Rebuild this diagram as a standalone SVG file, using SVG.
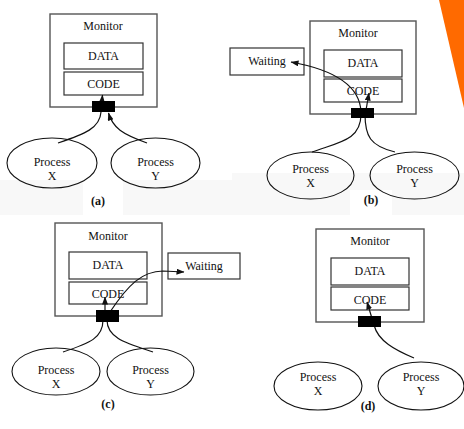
<svg xmlns="http://www.w3.org/2000/svg" width="464" height="429" viewBox="0 0 464 429">
<style>
text{font-family:"Liberation Serif","Times New Roman",serif;font-size:12px;fill:#111;text-anchor:middle}
.lbl{font-weight:bold}
.mon{fill:#fff;stroke:#555;stroke-width:1.4}
.box{fill:#fff;stroke:#333;stroke-width:1.2}
.ell{fill:none;stroke:#111;stroke-width:1.1}
.gate{fill:#000}
.c{fill:none;stroke:#111;stroke-width:1.2}
.ar{fill:none;stroke:#111;stroke-width:1.2;marker-end:url(#ah)}
</style>
<defs>
<marker id="ah" markerWidth="8" markerHeight="6" refX="7.5" refY="3" orient="auto" markerUnits="userSpaceOnUse">
<path d="M0,0 L8,3 L0,6 Z" fill="#111"/>
</marker>
</defs>
<rect width="464" height="429" fill="#fff"/>
<rect x="0" y="180" width="232" height="35" fill="#f8f8f8"/>
<rect x="83" y="180" width="40" height="35" fill="#fff"/>
<rect x="232" y="173" width="232" height="42" fill="#f8f8f8"/>
<rect x="350" y="190" width="42" height="25" fill="#fff"/>
<polygon points="439,0 464,0 464,108" fill="#ff6a00"/>

<!-- (a) -->
<g id="a-monitor">
<rect class="mon" x="50" y="14" width="107" height="93"/>
<text x="103" y="30">Monitor</text>
</g>
<g id="a-data"><rect class="box" x="64" y="43" width="79" height="26"/><text x="103.5" y="60">DATA</text></g>
<g id="a-code"><rect class="box" x="64" y="72" width="79" height="23"/><text x="103.5" y="88">CODE</text></g>
<g id="a-px"><ellipse class="ell" cx="52" cy="163" rx="45" ry="25"/><text x="52" y="166">Process</text><text x="52" y="180">X</text></g>
<g id="a-py"><ellipse class="ell" cx="155.5" cy="163" rx="44.5" ry="25"/><text x="155.5" y="166">Process</text><text x="155.5" y="180">Y</text></g>
<g id="a-connectors">
<path class="ar" d="M58,143 C85,134 100,128 101,112 L102.5,95"/>
<path class="ar" d="M147,143 C122,134 113,128 108.5,113"/>
</g>
<g id="a-gate"><rect class="gate" x="92" y="101" width="23" height="11"/></g>
<text class="lbl" x="98" y="205">(a)</text>

<!-- (b) -->
<g id="b-monitor">
<rect class="mon" x="310" y="21" width="106" height="93"/>
<text x="358" y="37">Monitor</text>
</g>
<g id="b-data"><rect class="box" x="324" y="50" width="78" height="27"/><text x="363" y="67">DATA</text></g>
<g id="b-code"><rect class="box" x="324" y="79" width="78" height="23"/><text x="363" y="95">CODE</text></g>
<g id="b-waiting"><rect class="box" x="230" y="48" width="74" height="27"/><text x="267" y="65">Waiting</text></g>
<g id="b-px"><ellipse class="ell" cx="310.5" cy="175.5" rx="43.5" ry="23.5"/><text x="310.5" y="173">Process</text><text x="310.5" y="187">X</text></g>
<g id="b-py"><ellipse class="ell" cx="414.5" cy="175.5" rx="44.5" ry="23.5"/><text x="414.5" y="173">Process</text><text x="414.5" y="187">Y</text></g>
<g id="b-connectors">
<path class="c" d="M312,152 C340,142 361,140 361,114"/>
<path class="c" d="M395,152 C370,146 365,136 365,114"/>
<path class="ar" d="M361,112 C360,86 335,70 291,62"/>
<path class="ar" d="M366,110 L369,93"/>
</g>
<g id="b-gate"><rect class="gate" x="351" y="108" width="23" height="10"/></g>
<text class="lbl" x="371" y="204">(b)</text>

<!-- (c) -->
<g id="c-monitor">
<rect class="mon" x="55" y="223" width="107" height="93"/>
<text x="108" y="240">Monitor</text>
</g>
<g id="c-data"><rect class="box" x="69" y="252" width="78" height="27"/><text x="108" y="269">DATA</text></g>
<g id="c-code"><rect class="box" x="69" y="282" width="78" height="22"/><text x="108" y="298">CODE</text></g>
<g id="c-waiting"><rect class="box" x="168" y="253" width="72" height="26"/><text x="204" y="270">Waiting</text></g>
<g id="c-px"><ellipse class="ell" cx="56" cy="371.5" rx="44" ry="23.5"/><text x="56" y="374">Process</text><text x="56" y="388">X</text></g>
<g id="c-py"><ellipse class="ell" cx="150.5" cy="371.5" rx="43.5" ry="23.5"/><text x="150.5" y="374">Process</text><text x="150.5" y="388">Y</text></g>
<g id="c-connectors">
<path class="c" d="M63,352 C90,343 103,338 103,320"/>
<path class="c" d="M153,352 C126,343 107,338 107,320"/>
<path class="ar" d="M105,312 L105,297"/>
<path class="ar" d="M110,312 C128,285 142,271 163,271 L184,272"/>
</g>
<g id="c-gate"><rect class="gate" x="96" y="310" width="23" height="12"/></g>
<text class="lbl" x="108" y="408">(c)</text>

<!-- (d) -->
<g id="d-monitor">
<rect class="mon" x="316" y="229" width="108" height="93"/>
<text x="370" y="245">Monitor</text>
</g>
<g id="d-data"><rect class="box" x="331" y="258" width="78" height="27"/><text x="370" y="275">DATA</text></g>
<g id="d-code"><rect class="box" x="331" y="287" width="78" height="23"/><text x="370" y="304">CODE</text></g>
<g id="d-px"><ellipse class="ell" cx="318" cy="386" rx="44" ry="24"/><text x="318" y="381">Process</text><text x="318" y="395">X</text></g>
<g id="d-py"><ellipse class="ell" cx="421" cy="386" rx="43" ry="24"/><text x="421" y="381">Process</text><text x="421" y="395">Y</text></g>
<g id="d-connectors">
<path class="ar" d="M414,358 C395,350 378,341 374,325 L367,302"/>
</g>
<g id="d-gate"><rect class="gate" x="358" y="316" width="23" height="11"/></g>
<text class="lbl" x="368" y="410">(d)</text>
</svg>
